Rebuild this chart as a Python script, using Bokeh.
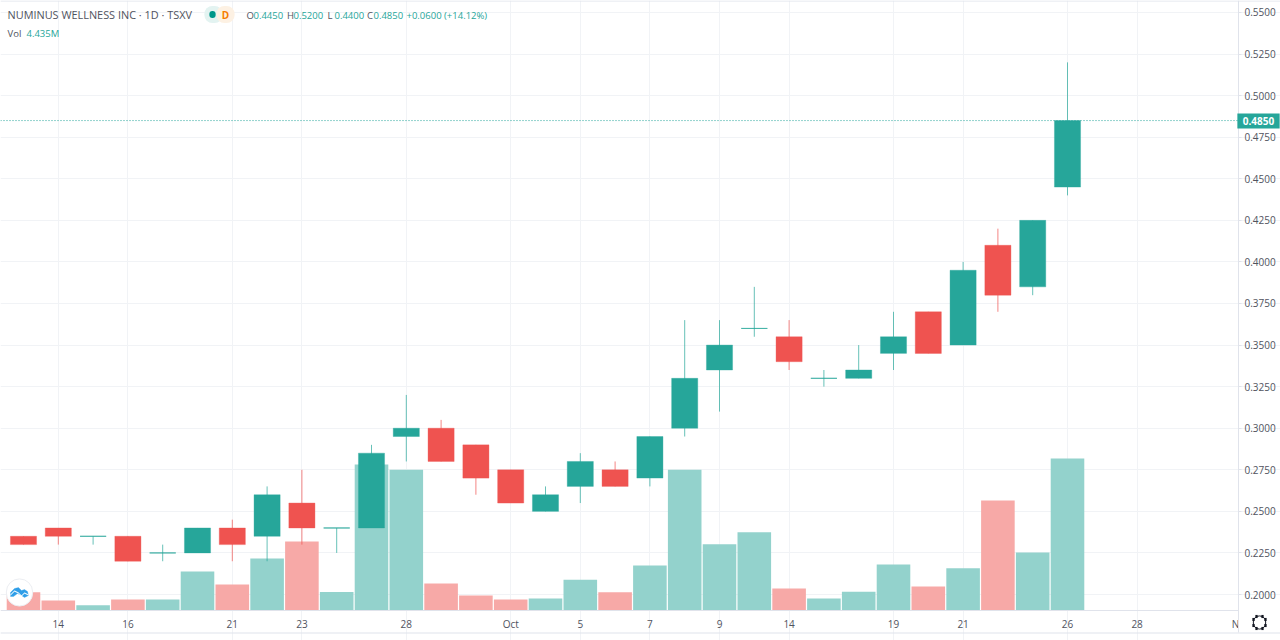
import math
from bokeh.plotting import figure
from bokeh.embed import file_html
from bokeh.resources import INLINE
from bokeh.models import (ColumnDataSource, Range1d, FixedTicker, Label, PolyAnnotation)

# ---- data -----------------------------------------------------------------
opens  = [.235,.240,.235,.235,.225,.225,.240,.235,.255,.240,.240,.295,.300,.290,.275,.250,.265,.275,.270,.300,.335,.360,.355,.330,.330,.345,.370,.350,.410,.385,.445]
highs  = [.235,.240,.235,.235,.230,.240,.245,.265,.275,.240,.290,.320,.305,.290,.275,.265,.285,.280,.295,.365,.365,.385,.365,.335,.350,.370,.370,.400,.420,.425,.520]
lows   = [.230,.230,.230,.220,.220,.225,.220,.220,.230,.225,.240,.280,.280,.260,.255,.250,.255,.265,.265,.295,.310,.355,.335,.325,.330,.335,.345,.350,.370,.380,.440]
closes = [.230,.235,.235,.220,.225,.240,.230,.260,.240,.240,.285,.300,.280,.270,.255,.260,.280,.265,.295,.330,.350,.360,.340,.330,.335,.355,.345,.395,.380,.425,.485]
volumes = [.53,.29,.15,.32,.32,1.14,.76,1.52,2.01,.54,4.26,4.11,.79,.44,.32,.35,.90,.53,1.31,4.11,1.93,2.28,.64,.35,.55,1.34,.70,1.23,3.21,1.69,4.435]
is_up  = [0,0,1,0,1,1,0,1,0,1,1,1,0,0,0,1,1,0,1,1,1,1,0,1,1,1,0,1,0,1,1]

date_ticks  = [1,3,6,8,11,14,16,18,20,22,25,27,30,32]
date_labels = ["14","16","21","23","28","Oct","5","7","9","14","19","21","26","28"]
price_ticks = [.20,.225,.25,.275,.30,.325,.35,.375,.40,.425,.45,.475,.50,.525,.55]
last_price  = 0.4850

GREEN, RED = "#26a69a", "#ef5350"
GREEN_V, RED_V = "#93d2cc", "#f7a9a7"
GRID, LINE, TXT = "#f1f3f6", "#e0e3eb", "#50535e"
FONT = "Open Sans"

W, H = 1280, 640
PANE_R, PANE_B = 1238, 610       # right and bottom edge of the chart pane
BAR = 34.8; X0 = 23.0            # px of first bar, px per bar
PY = 1662.9; Y200 = 594.0        # px per price unit, px of 0.20
VPX = 34.27                      # px per million shares

def xd(px):
    return (px - X0) / BAR

def yd(py):
    return .2 + (Y200 - py) / PY

x_rng = Range1d(xd(0), xd(W))
y_rng = Range1d(yd(H), yd(0))

p = figure(width=W, height=H, x_range=x_rng, y_range=y_rng, output_backend="svg",
           toolbar_location=None, y_axis_location="right", x_axis_location="below",
           min_border_left=0, min_border_top=0, min_border_right=0, min_border_bottom=0,
           margin=(0, 0, 0, 0), tools="")
p.outline_line_color = None
p.background_fill_color = "white"

p.extra_y_ranges = {"vol": Range1d((PANE_B - H) / VPX, PANE_B / VPX)}

idx = list(range(len(opens)))
src = ColumnDataSource(dict(
    x=idx, o=opens, h=highs, l=lows, c=closes, v=volumes,
    top=[max(a, b) for a, b in zip(opens, closes)],
    bot=[min(a, b) for a, b in zip(opens, closes)],
    col=[GREEN if u else RED for u in is_up],
    vcol=[GREEN_V if u else RED_V for u in is_up],
))

p.vbar(x="x", top="v", bottom=0, width=0.965, fill_color="vcol", line_color=None,
       source=src, y_range_name="vol")
p.segment(x0="x", x1="x", y0="l", y1="h", line_color="col", line_width=1, line_alpha=.7, source=src)
p.vbar(x="x", top="top", bottom="bot", width=0.75, fill_color="col", line_color="col",
       line_width=1, line_alpha=.35, source=src)
# doji: open equals close, drawn as a thin tick
doji = [i for i in idx if opens[i] == closes[i]]
p.segment(x0=[i - .375 for i in doji], x1=[i + .375 for i in doji],
          y0=[opens[i] for i in doji], y1=[opens[i] for i in doji],
          line_color=GREEN, line_width=1, line_alpha=.7)

# axes
xa, ya = p.xaxis[0], p.yaxis[0]
nov_pos = 34.83
xa.ticker = FixedTicker(ticks=date_ticks + [nov_pos])
ov = {t: l for t, l in zip(date_ticks, date_labels)}
ov[nov_pos] = "N"
xa.major_label_overrides = ov
ya.ticker = FixedTicker(ticks=price_ticks)
ya.major_label_overrides = {t: f"{t:.4f}" for t in price_ticks}
for a in (xa, ya):
    a.axis_line_color = LINE
    a.major_tick_line_color = LINE
    a.minor_tick_line_color = None
    a.major_tick_in = 0
    a.major_tick_out = 3
    a.major_label_text_color = TXT
    a.major_label_text_font = FONT
    a.major_label_text_font_size = "10px"
    a.major_label_standoff = 3
xa.major_tick_line_color = None
xa.major_tick_out = 0
xa.major_label_standoff = 6
xa.fixed_location = yd(PANE_B)
ya.fixed_location = xd(PANE_R)
xa.bounds = (xd(0), xd(PANE_R))
ya.bounds = (yd(632), yd(0))

p.xgrid.ticker = FixedTicker(ticks=date_ticks)
p.ygrid.ticker = FixedTicker(ticks=price_ticks)
p.xgrid.grid_line_color = GRID
p.ygrid.grid_line_color = GRID
p.xgrid.bounds = (yd(PANE_B), yd(0))
p.ygrid.bounds = (xd(0), xd(PANE_R))

# last-price line
p.segment(x0=[xd(0)], x1=[xd(PANE_R)], y0=[last_price], y1=[last_price], line_color=GREEN,
          line_width=1, line_dash="1 2")

def box(l, r, t, b, fill=None, radius=0, line=None):
    """Rectangle in page pixels, from a blank padded label."""
    w, h = r - l, b - t
    p.add_layout(Label(x=(l + r) / 2, y=H - (t + b) / 2, x_units="screen", y_units="screen", text=" ",
                       text_align="center", text_baseline="middle", text_font_size="1px",
                       padding=(w // 2, h // 2), background_fill_color=fill,
                       border_line_color=line, border_radius=radius, level="overlay"))

def text(x, y, s, color=TXT, size="11px", align="left", font=FONT, style="normal"):
    p.add_layout(Label(x=x, y=H - y, x_units="screen", y_units="screen", text=s, text_color=color,
                       text_font_size=size, text_font=font, text_align=align, text_baseline="middle",
                       text_font_style=style, level="overlay"))

box(0, W, 0, 1, LINE)
box(0, W, 632, 633, LINE)
box(1237, 1279, 113, 128, GREEN)
text(1258, 120.5, f"{last_price:.4f}", "#ffffff", "10px", "center", style="bold")

# header
text(7, 14, "NUMINUS WELLNESS INC · 1D · TSXV", TXT, "10.9px")
box(204, 222, 6, 22, "#e3f3f1", 8)
box(216, 234, 6, 22, "#fdf1e3", 8)
box(209, 215, 11, 17, "#009688", 3)
text(225, 14.5, "D", "#f57c00", "10px", "center", style="bold")
for lab, lx, val, vx in zip("OHLC", [246, 286.5, 327, 366.5], ["0.4450", "0.5200", "0.4400", "0.4850"],
                             [253, 293, 334, 373]):
    text(lx, 15, lab, TXT, "9.5px")
    text(vx, 15, val, GREEN, "9.5px")
text(406, 15, "+0.0600 (+14.12%)", GREEN, "9.5px")
text(7, 33, "Vol", TXT, "9.5px")
text(26, 33, "4.435M", GREEN, "9.5px")

# logo
box(6, 32, 579, 605, "#ffffff", 13, "#eceef2")
cx = [10, 14, 18, 21, 24, 27, 28, 24, 21, 17, 13, 10]
cy = [592, 588, 587, 590, 589, 591, 595, 597, 595, 593, 596, 596]
p.add_layout(PolyAnnotation(xs=cx, ys=[H - v for v in cy], xs_units="screen", ys_units="screen",
                            fill_color="#2f9ee8", fill_alpha=1, line_color="#2f9ee8", level="overlay"))
zx = [10, 14, 18, 21, 24, 28, 28, 24, 21, 18, 14, 10]
zy = [594, 590, 592, 595, 592, 594, 595, 593, 596, 593, 591, 595]
p.add_layout(PolyAnnotation(xs=zx, ys=[H - v for v in zy], xs_units="screen", ys_units="screen",
                            fill_color="#ffffff", fill_alpha=1, line_color="#ffffff", line_width=.5,
                            level="overlay"))

# gear: ring with eight teeth
box(1253, 1265, 616, 628, None, 6, "#131722")
for k in range(8):
    a = k * math.pi / 4 + math.pi / 8
    gxp, gyp = 1259 + 6.6 * math.cos(a), 622 + 6.6 * math.sin(a)
    box(round(gxp) - 1, round(gxp) + 1, round(gyp) - 1, round(gyp) + 1, "#131722")

open("out.html", "w").write(file_html(p, INLINE))
